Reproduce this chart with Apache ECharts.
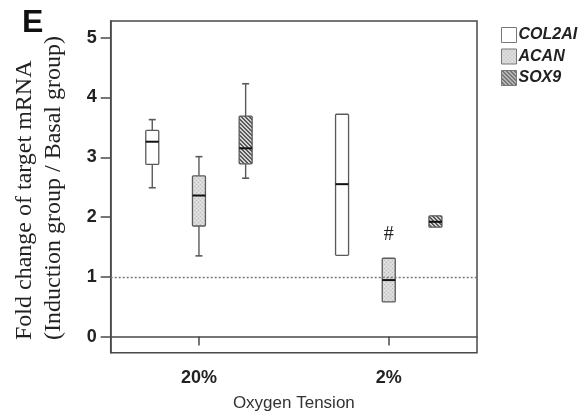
<!DOCTYPE html>
<html>
<head>
<meta charset="utf-8">
<script src="https://cdn.jsdelivr.net/npm/echarts@6/dist/echarts.min.js"></script>
<style>html,body{margin:0;padding:0;background:#fff;}#c{width:579px;height:417px;}</style>
</head>
<body>
<div id="c"></div>
<script>
// ---- data ----
const categories = ['20%', '2%'];
const seriesNames = ['COL2AI', 'ACAN', 'SOX9'];
// each entry: [low whisker, Q1, median, Q3, high whisker], one per category
const col2aiValues = [[2.49, 2.88, 3.26, 3.45, 3.63], [1.36, 1.36, 2.55, 3.72, 3.72]];
const acanValues   = [[1.35, 1.85, 2.36, 2.69, 3.01], [0.58, 0.58, 0.945, 1.31, 1.31]];
const sox9Values   = [[2.65, 2.89, 3.15, 3.69, 4.23], [1.83, 1.83, 1.92, 2.02, 2.02]];
const yTickValues = [0, 1, 2, 3, 4, 5];
const referenceLine = 1;
const significanceMarks = [{ category: '2%', series: 'ACAN', value: 1.70, text: '#' }];
const xAxisTitle = 'Oxygen Tension';
const yAxisTitle = ['Fold change of target mRNA', '(Induction group / Basal group)'];
const panelLabel = 'E';

// ---- patterns ----
function makeDots() {
  const s = 4;
  const c = document.createElement('canvas'); c.width = s; c.height = s;
  const g = c.getContext('2d');
  g.fillStyle = '#d9d9d9'; g.fillRect(0, 0, s, s);
  g.fillStyle = '#bdbdbd'; g.fillRect(0, 0, 1, 1); g.fillRect(2, 2, 1, 1);
  g.fillStyle = '#e6e6e6'; g.fillRect(2, 0, 1, 1); g.fillRect(0, 2, 1, 1);
  return { image: c, repeat: 'repeat' };
}
function makeHatch() {
  const s = 4;
  const c = document.createElement('canvas'); c.width = s; c.height = s;
  const g = c.getContext('2d');
  g.fillStyle = '#d4d4d4'; g.fillRect(0, 0, s, s);
  g.fillStyle = '#5a5a5a';
  for (let i = 0; i < s; i++) { g.fillRect(i, i, 1, 1); g.fillRect((i + 1) % s, i, 1, 1); }
  return { image: c, repeat: 'repeat' };
}
const fills = ['#ffffff', makeDots(), makeHatch()];
const allValues = [col2aiValues, acanValues, sox9Values];
const seriesOffsets = [-0.246, 0, 0.246];
const BOX_W = 13, CAP_W = 7;

function renderBox(params, api) {
  const x = api.value(0);
  const pL = api.coord([x, api.value(1)]);
  const pQ1 = api.coord([x, api.value(2)]);
  const pM = api.coord([x, api.value(3)]);
  const pQ3 = api.coord([x, api.value(4)]);
  const pH = api.coord([x, api.value(5)]);
  const cx = pM[0];
  const stroke = '#5a5a5a';
  const children = [];
  if (Math.abs(pH[1] - pQ3[1]) > 0.5) {
    children.push({ type: 'line', shape: { x1: cx, y1: pQ3[1], x2: cx, y2: pH[1] }, style: { stroke, lineWidth: 1.4 } });
    children.push({ type: 'line', shape: { x1: cx - CAP_W / 2, y1: pH[1], x2: cx + CAP_W / 2, y2: pH[1] }, style: { stroke, lineWidth: 1.6 } });
  }
  if (Math.abs(pL[1] - pQ1[1]) > 0.5) {
    children.push({ type: 'line', shape: { x1: cx, y1: pQ1[1], x2: cx, y2: pL[1] }, style: { stroke, lineWidth: 1.4 } });
    children.push({ type: 'line', shape: { x1: cx - CAP_W / 2, y1: pL[1], x2: cx + CAP_W / 2, y2: pL[1] }, style: { stroke, lineWidth: 1.6 } });
  }
  children.push({ type: 'rect', shape: { x: cx - BOX_W / 2, y: pQ3[1], width: BOX_W, height: pQ1[1] - pQ3[1], r: 1 },
    style: { fill: fills[params.seriesIndex], stroke, lineWidth: 1.3 } });
  children.push({ type: 'line', shape: { x1: cx - BOX_W / 2, y1: pM[1], x2: cx + BOX_W / 2, y2: pM[1] }, style: { stroke: '#111', lineWidth: 2 } });
  return { type: 'group', children };
}

const series = seriesNames.map((name, si) => ({
  name, type: 'custom',
  renderItem: renderBox,
  itemStyle: { color: fills[si], borderColor: '#777', borderWidth: 1 },
  encode: { x: 0, y: [1, 2, 3, 4, 5] },
  data: allValues[si].map((v, ci) => [ci + 1 + seriesOffsets[si]].concat(v)),
  silent: true,
  markLine: si === 0 ? {
    silent: true, symbol: ['none', 'none'], label: { show: false },
    lineStyle: { type: [2, 2], color: '#777', width: 1.3 },
    data: [{ yAxis: referenceLine }]
  } : undefined
}));

series.push({
  type: 'custom', name: 'marks', silent: true,
  renderItem: (params, api) => {
    const p = api.coord([api.value(0), api.value(1)]);
    return { type: 'text', x: p[0], y: p[1],
      style: { text: significanceMarks[params.dataIndex].text, font: '20px "Liberation Serif"', fill: '#222', align: 'center', verticalAlign: 'middle' } };
  },
  data: significanceMarks.map(m => [categories.indexOf(m.category) + 1 + seriesOffsets[seriesNames.indexOf(m.series)], m.value])
});

const chart = echarts.init(document.getElementById('c'));
chart.setOption({
  animation: false,
  backgroundColor: '#fff',
  grid: { left: 110.7, top: 21, right: 102, bottom: 64.3, show: true, borderColor: '#4a4a4a', borderWidth: 1.5, backgroundColor: 'transparent' },
  legend: {
    data: seriesNames, orient: 'vertical', left: 501, top: 26.5, icon: 'rect',
    itemWidth: 15, itemHeight: 15, itemGap: 4.5, padding: 0,
    itemStyle: { borderColor: '#777', borderWidth: 1 },
    textStyle: { fontFamily: 'Liberation Sans', fontSize: 16, fontWeight: 'bold', fontStyle: 'italic', color: '#222', padding: [0, 0, 0, -3], lineHeight: 17 }
  },
  xAxis: {
    type: 'value', min: 0.535, max: 2.465,
    axisLine: { show: true, lineStyle: { color: '#4a4a4a', width: 1.5 } },
    axisTick: { show: true, length: 9, customValues: [1, 2], lineStyle: { color: '#4a4a4a', width: 1.5 } },
    axisLabel: { customValues: [1, 2], formatter: v => categories[Math.round(v) - 1], margin: 16,
      fontFamily: 'Liberation Sans', fontSize: 18, fontWeight: 'bold', color: '#222' },
    splitLine: { show: false },
    name: xAxisTitle, nameLocation: 'middle', nameGap: 42,
    nameTextStyle: { fontFamily: 'Liberation Sans', fontSize: 17, color: '#333' }
  },
  yAxis: {
    type: 'value', min: -0.27, max: 5.28,
    axisLine: { show: true, lineStyle: { color: '#4a4a4a', width: 1.5 } },
    axisTick: { show: true, length: 10, customValues: yTickValues, lineStyle: { color: '#4a4a4a', width: 1.5 } },
    axisLabel: { customValues: yTickValues, margin: 14, fontFamily: 'Liberation Sans', fontSize: 18, fontWeight: 'bold', color: '#222' },
    splitLine: { show: false }
  },
  graphic: [
    { type: 'text', x: 22, y: 7, style: { text: panelLabel, font: 'bold 32px "Liberation Sans"', fill: '#111' } },
    { type: 'text', x: 25, y: 340, rotation: Math.PI / 2,
      style: { text: yAxisTitle[0], font: '24px "Liberation Serif"', fill: '#222', align: 'left', verticalAlign: 'middle' } },
    { type: 'text', x: 54, y: 340, rotation: Math.PI / 2,
      style: { text: yAxisTitle[1], font: '24px "Liberation Serif"', fill: '#222', align: 'left', verticalAlign: 'middle' } }
  ],
  series
});
</script>
</body>
</html>
